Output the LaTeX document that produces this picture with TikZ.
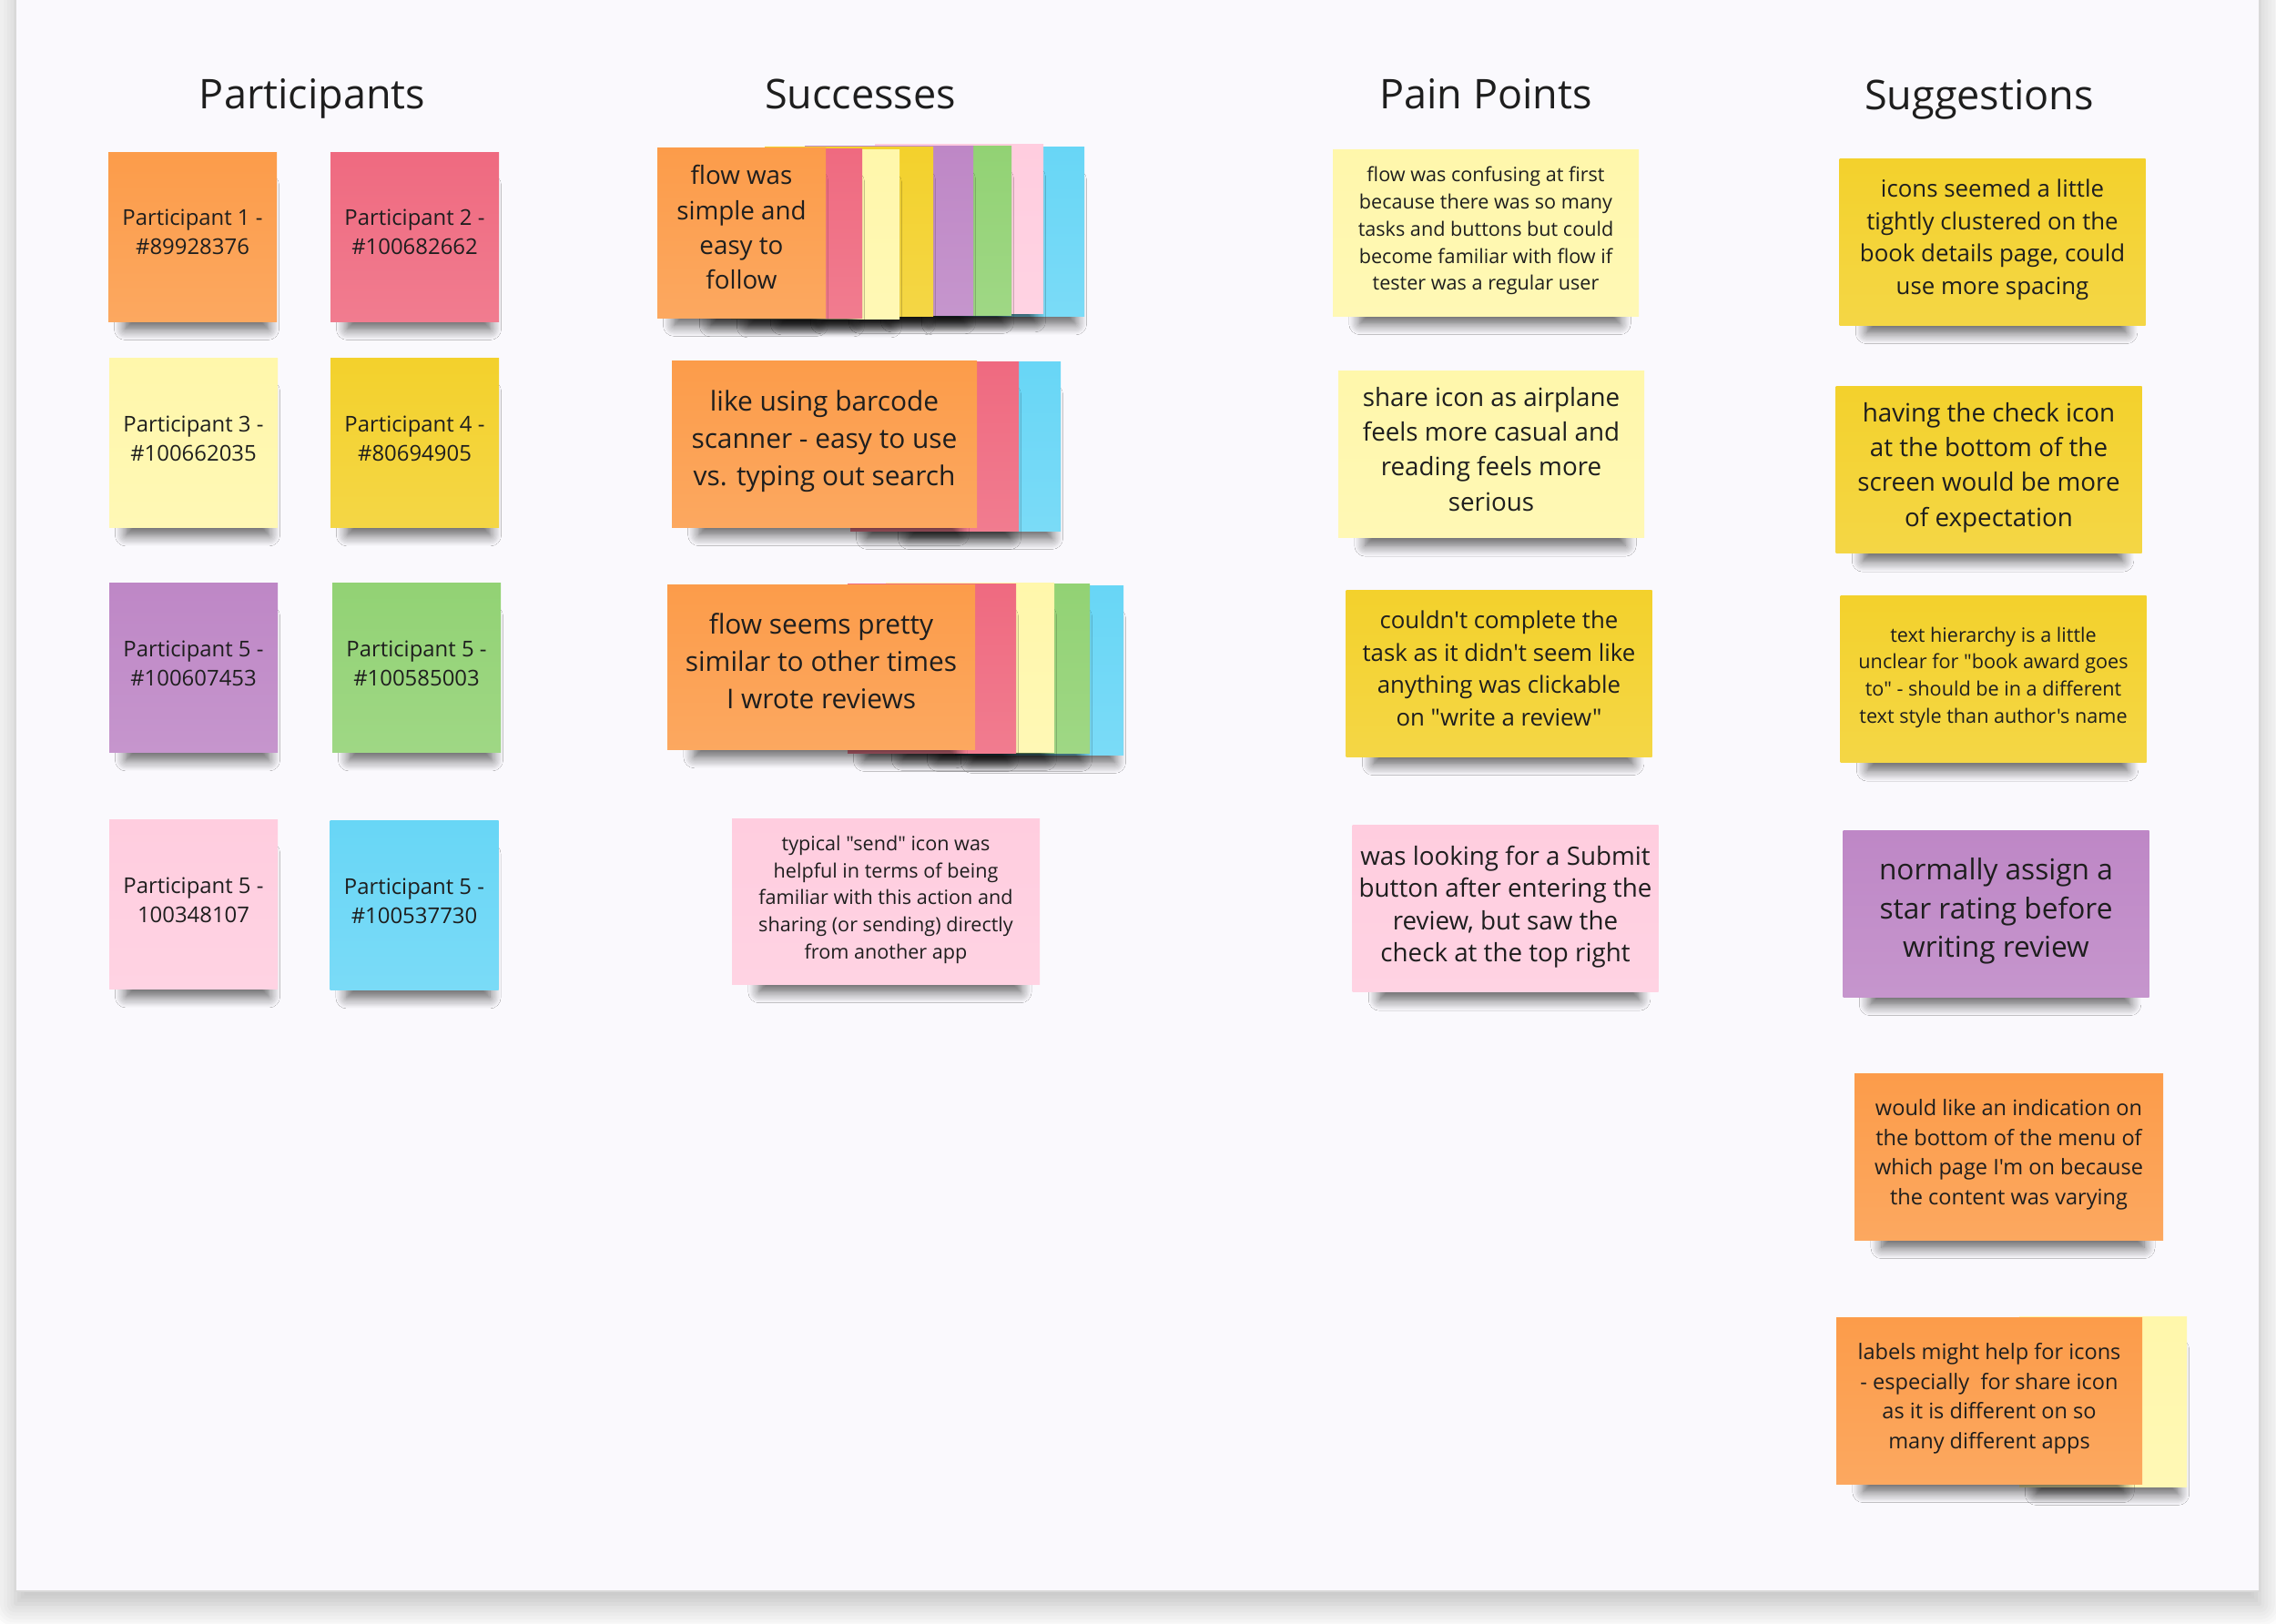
\documentclass[tikz,border=0pt]{standalone}
\usepackage{fontspec}
\newfontfamily\boardfont{Open Sans}
\usepackage{xcolor}
\usepackage{tikz}
\usetikzlibrary{shadows, shadows.blur}

\definecolor{boardbg}{HTML}{FAF9FD}
\definecolor{inkdark}{HTML}{1E1E1E}
\definecolor{noteorange}{HTML}{FC9C4A}
\definecolor{notered}{HTML}{EF6A80}
\definecolor{notecream}{HTML}{FFF7AB}
\definecolor{noteyellow}{HTML}{F3D12C}
\definecolor{notepurple}{HTML}{BE87C6}
\definecolor{notegreen}{HTML}{92D274}
\definecolor{notepink}{HTML}{FFCDDF}
\definecolor{noteblue}{HTML}{68D6F6}

\tikzset{
	sticky/.style={top color=#1, bottom color=#1!88!white, minimum width=1.85cm, minimum height=1.86cm, inner sep=0pt, align=center, text=inkdark,
		execute at begin node=\strut, execute at end node=\strut,
		blur shadow={shadow xshift=1.5pt, shadow yshift=-7.5pt, shadow scale=0.85, shadow blur radius=4pt, shadow blur steps=10, shadow opacity=62}},
	widesticky/.style={sticky=#1, minimum width=3.36cm, minimum height=1.83cm},
	heading/.style={font=\boardfont\fontsize{12.8}{15}\selectfont, text=inkdark, anchor=base},
}

\begin{document}
\begin{tikzpicture}[
		idtext/.style={font=\boardfont\fontsize{6.8}{9.1}\selectfont},
		smalltext/.style={font=\boardfont\fontsize{6.15}{8.45}\selectfont},
		midtext/.style={font=\boardfont\fontsize{6.7}{9.3}\selectfont},
		normtext/.style={font=\boardfont\fontsize{7.35}{10.1}\selectfont},
		bigtext/.style={font=\boardfont\fontsize{7.9}{10.9}\selectfont},
		largetext/.style={font=\boardfont\fontsize{8.5}{11.7}\selectfont},
		hugetext/.style={font=\boardfont\fontsize{9}{12.2}\selectfont}
	]
	\useasboundingbox (0,0) rectangle (25,-17.83);
	\fill[white] (0,0) rectangle (25,-17.83);
	\filldraw[fill=boardbg, draw=black!15, line width=0.4pt, blur shadow={shadow xshift=0pt, shadow yshift=-4pt, shadow blur radius=8pt, shadow blur steps=8, shadow opacity=28}] (0.17,0.5) rectangle (24.82,-17.48);

	\node[heading] (tpart) at (3.43,-1.19) {Participants};
	\node[heading] (tsucc) at (9.45,-1.19) {Successes};
	\node[heading] (tpain) at (16.32,-1.19) {Pain Points};
	\node[heading] (tsugg) at (21.74,-1.20) {Suggestions};

	% participants
	\node[sticky=noteorange, idtext] (p1) at (2.115,-2.60) {Participant 1 -\\\#89928376};
	\node[sticky=notered, idtext] (p2) at (4.555,-2.60) {Participant 2 -\\\#100682662};
	\node[sticky=notecream, idtext] (p3) at (2.125,-4.865) {Participant 3 -\\\#100662035};
	\node[sticky=noteyellow, idtext] (p4) at (4.555,-4.865) {Participant 4 -\\\#80694905};
	\node[sticky=notepurple, idtext] (p5a) at (2.125,-7.335) {Participant 5 -\\\#100607453};
	\node[sticky=notegreen, idtext] (p5b) at (4.575,-7.335) {Participant 5 -\\\#100585003};
	\node[sticky=notepink, idtext] (p5c) at (2.125,-9.935) {Participant 5 -\\100348107};
	\node[sticky=noteblue, idtext] (p5d) at (4.55,-9.945) {Participant 5 -\\\#100537730};

	% successes
	\node[sticky=noteblue] (ok1blue) at (10.985,-2.545) {};
	\node[sticky=notepink] (ok1pink) at (10.535,-2.515) {};
	\node[sticky=notegreen] (ok1green) at (10.185,-2.53) {};
	\node[sticky=notepurple] (ok1purple) at (9.765,-2.535) {};
	\node[sticky=noteyellow] (ok1yellow) at (9.325,-2.545) {};
	\node[sticky=notecream] (ok1cream) at (8.955,-2.575) {};
	\node[sticky=notered] (ok1red) at (8.545,-2.565) {};
	\node[sticky=noteorange, bigtext, minimum height=1.87cm] (ok1) at (8.145,-2.555) {flow was\\simple and\\easy to\\follow};

	\node[sticky=noteblue] (ok2blue) at (10.725,-4.90) {};
	\node[sticky=notered] (ok2red) at (10.265,-4.90) {};
	\node[widesticky=noteorange, largetext, minimum width=3.35cm] (ok2) at (9.055,-4.875) {like using barcode\\scanner - easy to use\\vs. typing out search};

	\node[sticky=noteblue] (ok3blue) at (11.415,-7.36) {};
	\node[sticky=notegreen] (ok3green) at (11.045,-7.34) {};
	\node[sticky=notecream] (ok3cream) at (10.655,-7.33) {};
	\node[sticky=notered] (ok3red) at (10.235,-7.34) {};
	\node[widesticky=noteorange, largetext, minimum width=3.38cm, minimum height=1.81cm] (ok3) at (9.02,-7.325) {flow seems pretty\\similar to other times\\I wrote reviews};

	\node[widesticky=notepink, smalltext, minimum width=3.38cm, minimum height=1.82cm] (ok4) at (9.73,-9.90) {typical "send" icon was\\helpful in terms of being\\familiar with this action and\\sharing (or sending) directly\\from another app};

	% pain points
	\node[widesticky=notecream, smalltext] (pain1) at (16.32,-2.555) {flow was confusing at first\\because there was so many\\tasks and buttons but could\\become familiar with flow if\\tester was a regular user};
	\node[widesticky=notecream, bigtext] (pain2) at (16.38,-4.99) {share icon as airplane\\feels more casual and\\reading feels more\\serious};
	\node[widesticky=noteyellow, normtext] (pain3) at (16.465,-7.395) {couldn't complete the\\task as it didn't seem like\\anything was clickable\\on "write a review"};
	\node[widesticky=notepink, font=\boardfont\fontsize{7.9}{10.1}\selectfont] (pain4) at (16.535,-9.98) {was looking for a Submit\\button after entering the\\review, but saw the\\check at the top right};

	% suggestions
	\node[widesticky=noteyellow, normtext] (idea1) at (21.885,-2.655) {icons seemed a little\\tightly clustered on the\\book details page, could\\use more spacing};
	\node[widesticky=noteyellow, bigtext] (idea2) at (21.845,-5.16) {having the check icon\\at the bottom of the\\screen would be more\\of expectation};
	\node[widesticky=noteyellow, smalltext] (idea3) at (21.895,-7.46) {text hierarchy is a little\\unclear for "book award goes\\to" - should be in a different\\text style than author's name};
	\node[widesticky=notepurple, hugetext] (idea4) at (21.925,-10.035) {normally assign a\\star rating before\\writing review};
	\node[widesticky=noteorange, midtext, minimum width=3.39cm] (idea5) at (22.065,-12.705) {would like an indication on\\the bottom of the menu of\\which page I'm on because\\the content was varying};
	\node[sticky=notecream, minimum width=1.84cm, minimum height=1.87cm] (idea6cream) at (23.10,-15.395) {};
	\node[widesticky=noteorange, midtext] (idea6) at (21.85,-15.385) {labels might help for icons\\- especially\ \ for share icon\\as it is different on so\\many different apps};
\end{tikzpicture}
\end{document}
